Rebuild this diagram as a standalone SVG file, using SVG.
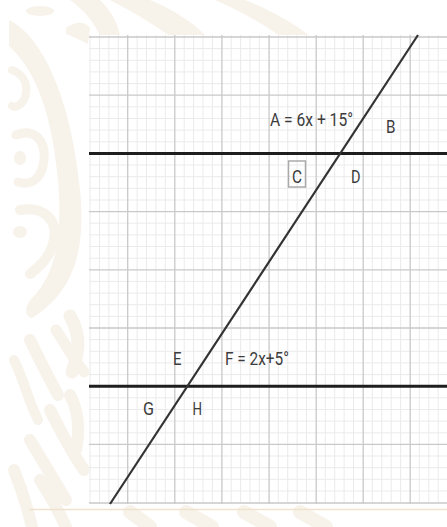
<svg xmlns="http://www.w3.org/2000/svg" width="447" height="527" viewBox="0 0 447 527">
  <defs>
    <style>
      .bg { fill: #f7f2ea; stroke: none; }
      .bgs { fill: none; stroke: #f7f2ea; stroke-linecap: round; }
      .minor { stroke: #ebebeb; stroke-width: 1; fill: none; }
      .major { stroke: #c9c9c9; stroke-width: 1.3; fill: none; }
      .thick { stroke: #1e1e1e; stroke-width: 3; fill: none; }
      .trans { stroke: #333333; stroke-width: 2.2; fill: none; }
      .lbl { font-family: "Roboto", "Liberation Sans", sans-serif; font-size: 18.5px; fill: #3c3c3c; }
      .box { fill: none; stroke: #aaaaaa; stroke-width: 1.5; }
    </style>
  </defs>

  <rect x="0" y="0" width="447" height="527" fill="#ffffff"/>

  <!-- decorative background -->
  <g id="background">
    <path class="bg" d="M9 20 C45 38 72 105 80 190 C86 250 74 292 32 318 C24 316 24 306 34 296 C58 270 62 230 58 180 C52 115 36 70 9 46 Z"/>
    <ellipse class="bg" cx="40" cy="11" rx="14" ry="5"/>
    <path class="bg" d="M66 28 C74 22 84 20 90 28 L88 44 C80 40 72 36 66 34 Z"/>
    <path class="bg" d="M70 0 L100 0 C112 12 118 24 120 36 L100 36 C94 22 84 10 70 0 Z"/>
    <path class="bg" d="M110 0 L150 0 C170 8 190 20 205 35 L170 36 C150 22 130 10 110 0 Z"/>
    <path class="bg" d="M215 0 L245 0 C270 10 292 22 310 36 L280 36 C260 22 238 10 215 0 Z"/>
    <path class="bgs" stroke-width="8" d="M12 70 C24 74 30 86 24 100 C20 106 14 108 12 106"/>
    <path class="bgs" stroke-width="9" d="M16 135 C34 128 46 140 44 160 C42 180 30 186 18 182"/>
    <ellipse class="bg" cx="20" cy="158" rx="6" ry="7"/>
    <path class="bgs" stroke-width="10" d="M20 210 C44 206 58 220 54 240 C50 258 40 266 30 274"/>
    <ellipse class="bg" cx="20" cy="232" rx="7" ry="6"/>
    <path class="bgs" stroke-width="13" d="M70 316 C78 330 82 345 72 372"/>
    <path class="bgs" stroke-width="11" d="M56 330 C66 345 74 360 84 372"/>
    <path class="bgs" stroke-width="12" d="M30 340 C42 365 50 380 58 395"/>
    <path class="bgs" stroke-width="10" d="M14 360 C24 380 28 400 38 420"/>
    <path class="bgs" stroke-width="12" d="M70 395 C78 410 80 430 76 450"/>
    <path class="bgs" stroke-width="12" d="M50 410 C60 430 70 450 84 470"/>
    <path class="bgs" stroke-width="12" d="M30 440 C42 460 54 480 66 500"/>
    <path class="bgs" stroke-width="12" d="M40 480 C50 495 58 510 66 527"/>
    <path class="bgs" stroke-width="12" d="M14 470 C22 490 28 510 32 527"/>
    <path class="bgs" stroke-width="14" d="M130 512 C138 518 144 522 150 527"/>
    <path class="bgs" stroke-width="14" d="M186 512 C196 518 204 522 212 527"/>
    <path class="bgs" stroke-width="14" d="M244 512 C254 518 262 522 270 527"/>
    <path class="bgs" stroke-width="14" d="M300 512 C310 518 318 522 326 527"/>
    <line x1="29" y1="509.5" x2="447" y2="509.5" stroke="#efe2cf" stroke-width="1.5"/>
  </g>

  <!-- graph paper -->
  <g id="grid">
    <rect x="89" y="35" width="358" height="469" fill="#ffffff"/>
    <path class="minor" d="M90.1 35V503 M99.5 35V503 M108.9 35V503 M118.3 35V503 M137.1 35V503 M146.5 35V503 M155.9 35V503 M165.3 35V503 M184.2 35V503 M193.6 35V503 M203 35V503 M212.4 35V503 M231.2 35V503 M240.6 35V503 M250 35V503 M259.4 35V503 M278.3 35V503 M287.7 35V503 M297.1 35V503 M306.5 35V503 M325.3 35V503 M334.7 35V503 M344.1 35V503 M353.5 35V503 M372.3 35V503 M381.8 35V503 M391.2 35V503 M400.6 35V503 M419.4 35V503 M428.8 35V503 M438.2 35V503"/>
    <path class="minor" d="M89 48.6H447 M89 60.3H447 M89 71.9H447 M89 83.6H447 M89 106.8H447 M89 118.5H447 M89 130.1H447 M89 141.8H447 M89 165H447 M89 176.7H447 M89 188.3H447 M89 200H447 M89 223.2H447 M89 234.9H447 M89 246.5H447 M89 258.2H447 M89 281.4H447 M89 293.1H447 M89 304.7H447 M89 316.4H447 M89 339.6H447 M89 351.3H447 M89 362.9H447 M89 374.6H447 M89 397.8H447 M89 409.5H447 M89 421.1H447 M89 432.8H447 M89 456H447 M89 467.7H447 M89 479.3H447 M89 491H447"/>
    <path class="major" d="M127.7 35V504 M174.8 35V504 M221.9 35V504 M269.1 35V504 M316.2 35V504 M363.2 35V504 M410.2 35V504"/>
    <path class="major" d="M89 37H447 M89 95.2H447 M89 211.6H447 M89 269.8H447 M89 328H447 M89 444.4H447 M89 503H447"/>
  </g>

  <!-- lines -->
  <g id="connectors">
    <line id="parallel-top" class="thick" x1="89" y1="153.4" x2="447" y2="153.4"/>
    <line id="parallel-bottom" class="thick" x1="89" y1="386.2" x2="447" y2="386.2"/>
    <line id="transversal" class="trans" x1="110" y1="504" x2="418" y2="35"/>
  </g>

  <!-- angle labels -->
  <g id="label-A"><text class="lbl" x="270" y="126" textLength="83" lengthAdjust="spacingAndGlyphs">A = 6x + 15°</text></g>
  <g id="label-B"><text class="lbl" x="386" y="133" textLength="9.5" lengthAdjust="spacingAndGlyphs">B</text></g>
  <g id="label-C">
    <rect class="box" x="288.5" y="161" width="17" height="26"/>
    <text class="lbl" x="292" y="183" textLength="10" lengthAdjust="spacingAndGlyphs">C</text>
  </g>
  <g id="label-D"><text class="lbl" x="351" y="183" textLength="9.5" lengthAdjust="spacingAndGlyphs">D</text></g>
  <g id="label-E"><text class="lbl" x="173" y="364.5" textLength="8.5" lengthAdjust="spacingAndGlyphs">E</text></g>
  <g id="label-F"><text class="lbl" x="225" y="364.5" textLength="64" lengthAdjust="spacingAndGlyphs">F = 2x+5°</text></g>
  <g id="label-G"><text class="lbl" x="143" y="415" textLength="11" lengthAdjust="spacingAndGlyphs">G</text></g>
  <g id="label-H"><text class="lbl" x="192.5" y="415" textLength="9.5" lengthAdjust="spacingAndGlyphs">H</text></g>
</svg>
